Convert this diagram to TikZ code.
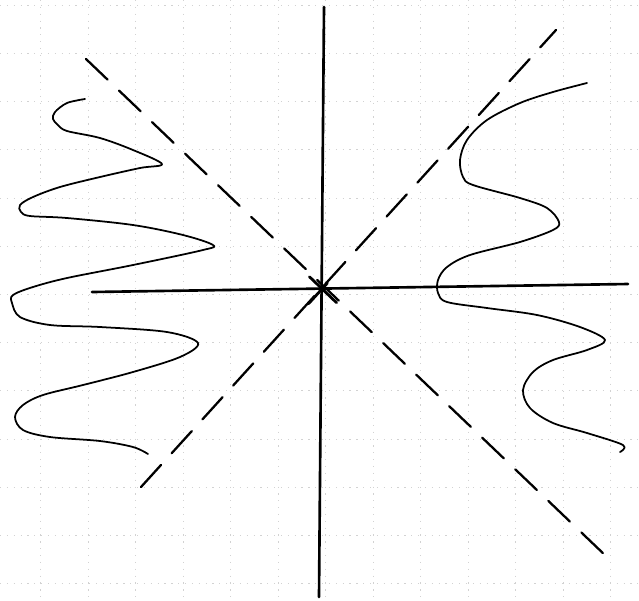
\documentclass[tikz,border=0pt]{standalone}
\usepackage{tikz}
\usetikzlibrary{calc}

\begin{document}
\begin{tikzpicture}[
  x=0.02cm, y=-0.02cm,
  gridline/.style={gray!35, line width=0.3pt, dash pattern=on 0.7pt off 3.2pt},
  axis/.style={line width=1.5pt, line cap=round},
  curve/.style={line width=1pt, line cap=round, line join=round},
  asym/.style={line width=1.3pt, line cap=round, dash pattern=on 17pt off 9pt}
]
\useasboundingbox (0,0) rectangle (639,600);
% faint squared paper
\foreach \i in {0,...,12} {
  \draw[gridline] ({40.7+47.5*\i},0) -- ({40.7+47.5*\i},600);
  \draw[gridline] (0,{5+48.2*\i}) -- (639,{5+48.2*\i});
}
\coordinate (O) at (322,289);
\coordinate (xl) at (92,292);
\coordinate (xr) at (628,284);
\coordinate (yt) at (324,7);
\coordinate (yb) at (319,597);
\coordinate (da) at (86,59);
\coordinate (db) at (607,557);
\coordinate (ua) at (141,487);
\coordinate (ub) at (556,30);
\draw[axis] (xl) -- (xr);
\draw[axis] (yb) -- (yt);
% asymptotes
\draw[asym] (da) -- (db);
\draw[asym] (ua) -- (ub);
\draw[line width=1.6pt, line cap=round] ($(O)!3.5mm!(da)$) -- ($(O)!4mm!(db)$);
\draw[line width=1.6pt, line cap=round] ($(O)!4mm!(ua)$) -- ($(O)!1.6mm!(ub)$);
% left branch
\draw[curve] plot[smooth, tension=0.55] coordinates {
  (85,99) (67,103) (55,112) (53,119) (58,125) (67,131) (100,138) (133,150)
  (162,164) (140,168) (100,177) (60,187) (33,197) (20,205) (21,212) (30,216)
  (67,218) (133,225) (183,235) (213,245) (203,250) (133,265) (67,278) (33,287)
  (13,295) (12,303) (20,317) (50,325) (100,327) (167,332) (198,343) (180,357)
  (133,372) (83,385) (43,395) (23,405) (15,417) (23,430) (50,437) (100,441)
  (133,447) (148,454)};
% right branch
\draw[curve] plot[smooth, tension=0.55] coordinates {
  (587,83) (553,92) (520,103) (487,120) (467,140) (460,160) (463,177) (473,185)
  (520,198) (547,208) (559,222) (553,230) (520,242) (470,255) (447,267) (438,280)
  (438,293) (447,302) (487,308) (537,315) (580,327) (605,340) (587,350) (553,360)
  (533,372) (523,390) (530,408) (553,423) (587,433) (623,445) (620,452)};
\end{tikzpicture}
\end{document}
